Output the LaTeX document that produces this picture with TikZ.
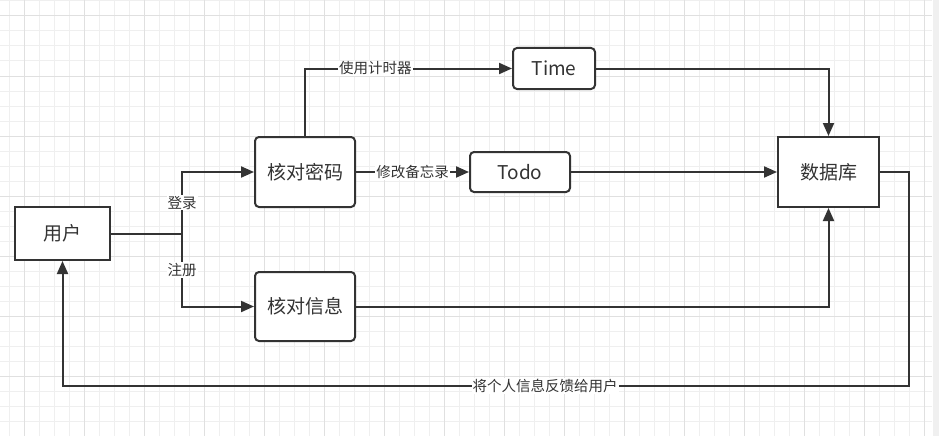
\documentclass[tikz,border=0pt]{standalone}
\usepackage{fontspec}
\setmainfont{Noto Sans CJK SC}
\usetikzlibrary{arrows.meta,calc}
\definecolor{ink}{HTML}{333333}
\definecolor{gridminor}{HTML}{EFEFEF}
\definecolor{gridmajor}{HTML}{E0E0E0}
\definecolor{band}{HTML}{F0F0F0}
\tikzset{
  box/.style={draw=ink,line width=2pt,fill=white,text=ink,font=\fontsize{19}{22}\selectfont,inner sep=0pt,minimum width=#1},
  sharpbox/.style={box=#1},
  roundbox/.style={box=#1,rounded corners=4pt},
  conn/.style={draw=ink,line width=2pt},
  arr/.style={conn,-{Triangle[length=13pt,width=11pt]}},
  lbl/.style={fill=white,text=ink,font=\fontsize{14.5}{16}\selectfont,inner sep=1pt}
}
\begin{document}
\begin{tikzpicture}[x=1pt,y=-1pt]
\useasboundingbox (0,0) rectangle (939,436);
\fill[white] (0,0) rectangle (939,436);
% grid
\foreach \k in {0,...,61} {\draw[gridminor,line width=1pt] ({9.5+15*\k},0) -- ({9.5+15*\k},436);}
\foreach \k in {0,...,29} {\draw[gridminor,line width=1pt] (0,{1+15*\k}) -- (932,{1+15*\k});}
\foreach \k in {0,...,15} {\draw[gridmajor,line width=1pt] ({24.5+60*\k},0) -- ({24.5+60*\k},436);}
\foreach \k in {0,...,7} {\draw[gridmajor,line width=1pt] (0,{16+60*\k}) -- (932,{16+60*\k});}
\fill[band] (932.5,0) rectangle (939,436);

% nodes
\node[sharpbox=95pt,minimum height=53pt] (user) at (62.5,233.5) {用户};
\node[roundbox=100pt,minimum height=70pt] (pw) at (305,172) {核对密码};
\node[roundbox=100pt,minimum height=69pt] (info) at (305,306.5) {核对信息};
\node[roundbox=82pt,minimum height=41pt] (time) at (554,68.5) {Time};
\node[roundbox=100pt,minimum height=40pt] (todo) at (520,172) {Todo};
\node[sharpbox=101pt,minimum height=70pt] (db) at (828.5,172) {数据库};

\coordinate (j) at (182,233.5);
\coordinate (r) at (909,386);

% connectors
\draw[conn] (user.east) -- (j);
\draw[arr] (j) |- (pw.west) node[lbl,pos=0.25] {登录};
\draw[arr] (j) |- (info.west) node[lbl,pos=0.25] {注册};
\draw[arr] (pw.north) |- (time.west) node[lbl,pos=0.67] {使用计时器};
\draw[arr] (pw.east) -- (todo.west) node[lbl,pos=0.5] {修改备忘录};
\draw[arr] (todo.east) -- (db.west);
\draw[arr] (time.east) -| (db.north);
\draw[arr] (info.east) -| (db.south);
\draw[arr] (db.east) -| (r) -- (user.south |- r) node[lbl,pos=0.43] {将个人信息反馈给用户} -- (user.south);
\end{tikzpicture}
\end{document}
